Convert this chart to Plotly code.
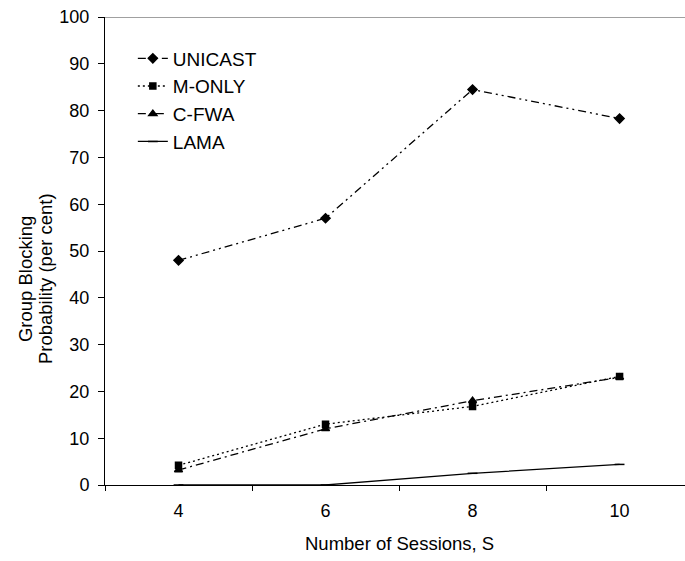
import plotly.graph_objects as go

# Number of sessions on the x axis
sessions = [4, 6, 8, 10]

# Group blocking probability (per cent) for each scheme
unicast = [48.0, 57.0, 84.5, 78.3]
m_only = [4.2, 13.0, 16.8, 23.2]
c_fwa = [3.2, 12.0, 18.0, 23.0]
lama = [0.0, 0.0, 2.5, 4.4]

y_ticks = list(range(0, 101, 10))

x_title = "Number of Sessions, S"
y_title_lines = ["Group Blocking", "Probability (per cent)"]

series = [
    ("UNICAST", unicast, "8px,4px,2px,4px,2px,4px", "diamond", 7),
    ("M-ONLY", m_only, "2px,3px", "square", 6),
    ("C-FWA", c_fwa, "8px,4px,2px,4px", "triangle-up", 7),
    ("LAMA", lama, "solid", "line-ew", 7),
]

FAMILY = "Liberation Sans, Arial, sans-serif"

fig = go.Figure()
for name, vals, dash, symbol, size in series:
    fig.add_trace(go.Scatter(
        x=sessions, y=vals, name=name, mode="lines+markers",
        legendgroup=name,
        line=dict(color="black", width=1.3, dash=dash),
        marker=dict(symbol=symbol, size=size, color="black",
                    line=dict(color="black", width=1.5)),
    ))

tick_font = dict(family=FAMILY, size=18, color="black")
title_font = dict(family=FAMILY, size=18.5, color="black")

fig.update_layout(
    width=685, height=561,
    margin=dict(l=105, r=0, t=17, b=76),
    plot_bgcolor="white", paper_bgcolor="white",
    font=dict(family=FAMILY, size=15, color="black"),
    showlegend=True,
    legend=dict(x=0.048, y=0.952, xanchor="left", yanchor="top",
                bgcolor="rgba(0,0,0,0)",
                font=dict(family=FAMILY, size=19, color="black"),
                tracegroupgap=0),
    xaxis=dict(
        range=[3, 10.89], tickvals=sessions, ticktext=[str(s) for s in sessions],
        ticks="", showgrid=False, zeroline=False,
        showline=True, linecolor="black", linewidth=1,
        tickfont=tick_font,
        minor=dict(tick0=3, dtick=2, ticks="outside", ticklen=5,
                   tickcolor="black", showgrid=False),
        ticklabelstandoff=9,
    ),
    yaxis=dict(
        range=[0, 100], tickvals=y_ticks, ticks="outside", ticklen=6,
        tickcolor="black", showgrid=False, zeroline=False,
        showline=True, linecolor="black", linewidth=1,
        tickfont=tick_font, ticklabelstandoff=5,
    ),
)

# axis titles
fig.add_annotation(text=x_title, xref="x", yref="paper", x=7, y=0,
                   yshift=-58, showarrow=False, font=title_font,
                   xanchor="center", yanchor="middle")
for line_text, shift in zip(y_title_lines, [-80, -60]):
    fig.add_annotation(text=line_text, xref="paper", yref="y", x=0, y=44,
                       xshift=shift, showarrow=False, textangle=-90,
                       font=title_font, xanchor="center", yanchor="middle")

# plot-area border along the top
fig.add_shape(type="line", xref="paper", yref="y", x0=0, x1=1, y0=100, y1=100,
              line=dict(color="#808080", width=1.5))

fig.write_html("out.html")
